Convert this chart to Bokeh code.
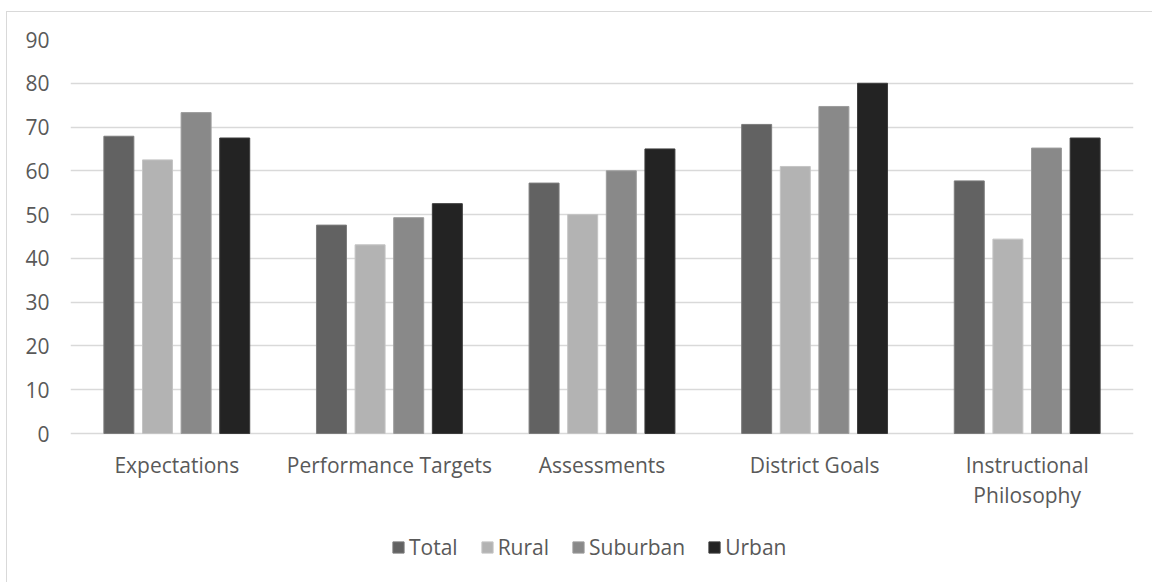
from bokeh.plotting import figure
from bokeh.models import FactorRange, Legend, LegendItem, FixedTicker, ColumnDataSource
from bokeh.core.properties import value
from bokeh.transform import dodge
from bokeh.embed import file_html
from bokeh.resources import INLINE

categories = ["Expectations", "Performance Targets", "Assessments", "District Goals",
              "Instructional\nPhilosophy"]
series = ["Total", "Rural", "Suburban", "Urban"]
total = [67.9, 47.6, 57.2, 70.6, 57.7]
rural = [62.5, 43.1, 50.0, 61.0, 44.4]
suburban = [73.3, 49.3, 60.0, 74.7, 65.2]
urban = [67.5, 52.5, 65.0, 80.0, 67.5]
y_ticks = [0, 10, 20, 30, 40, 50, 60, 70, 80, 90]

colors = ["#626262", "#b3b3b3", "#898989", "#232323"]
edges = ["#7c7c7c", "#c4c4c4", "#9c9c9c", "#3c3c3c"]

src = ColumnDataSource(dict(cat=categories, Total=total, Rural=rural,
                            Suburban=suburban, Urban=urban))

FONT = "Open Sans"
TXT = "#595959"
GRID = "#d9d9d9"
FS = "21px"

TOP = 27
PX_PER_UNIT = 394 / 90
y_low = -(571 - TOP - 394) / PX_PER_UNIT

p = figure(x_range=FactorRange(*categories), y_range=(y_low, 90),
           width=1146, height=571, output_backend="svg", toolbar_location=None,
           x_axis_location=None,
           min_border_left=63, min_border_right=20, min_border_top=TOP,
           min_border_bottom=0)
p.margin = (11, 0, 0, 6)
p.styles = {"border-top": "1px solid #d9d9d9", "border-left": "1px solid #d9d9d9"}
p.outline_line_color = None
p.background_fill_color = "white"
p.border_fill_color = "white"

offsets = [-0.2725, -0.0908, 0.0908, 0.2725]
rends = []
for s, off, c, e in zip(series, offsets, colors, edges):
    r = p.vbar(x=dodge("cat", off, range=p.x_range), top=s, bottom=0, width=0.141,
               source=src, fill_color=c, line_color=e, line_width=1)
    rends.append(r)

p.text(x="cat", y=0, text="cat", source=src, y_offset=17,
       text_align="center", text_baseline="top", text_line_height=1.09,
       text_font=value(FONT), text_font_size=value(FS), text_color=TXT)

p.xgrid.grid_line_color = None
p.ygrid.grid_line_color = GRID
p.ygrid.grid_line_width = 1.3
p.yaxis.ticker = FixedTicker(ticks=y_ticks)
p.yaxis.axis_line_color = None
p.yaxis.major_tick_line_color = None
p.yaxis.minor_tick_line_color = None
p.yaxis.major_tick_out = 0
p.yaxis.major_tick_in = 0
p.yaxis.major_label_standoff = 21
p.yaxis.major_label_text_font = FONT
p.yaxis.major_label_text_font_size = FS
p.yaxis.major_label_text_color = TXT

legend = Legend(items=[LegendItem(label=s, renderers=[r]) for s, r in zip(series, rends)],
                orientation="horizontal", location=(321, 22),
                glyph_width=14, glyph_height=14, label_standoff=4, spacing=22,
                padding=0, margin=0, border_line_color=None, background_fill_alpha=0,
                label_text_font=FONT, label_text_font_size=FS, label_text_color=TXT)
p.add_layout(legend, "center")

open("out.html", "w").write(file_html(p, INLINE))
